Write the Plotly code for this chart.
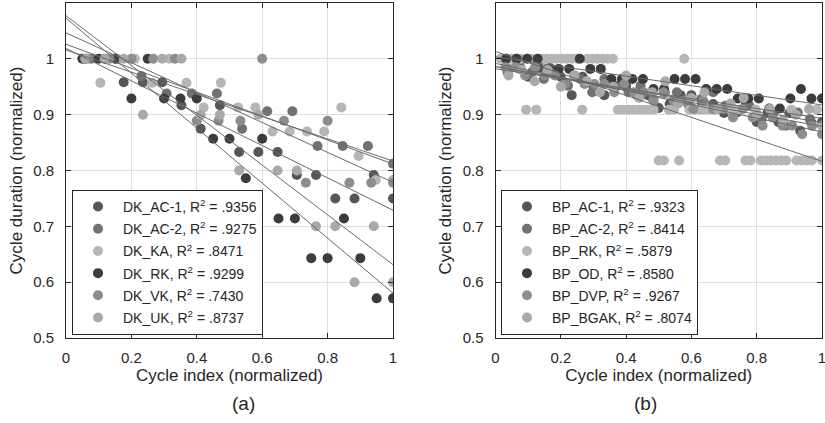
import numpy as np
import plotly.graph_objects as go

# ---- panel (a): DK series, normalized cycle durations in cycle order ----
dk_names = ["DK_AC-1", "DK_AC-2", "DK_KA", "DK_RK", "DK_VK", "DK_UK"]
dk_r2 = [".9356", ".9275", ".8471", ".9299", ".7430", ".8737"]
dk_ac1 = [1.0, 1.0, 0.958, 0.958, 0.958, 0.917, 0.875, 0.917, 0.833, 0.833,
          0.833, 0.792, 0.792, 0.75, 0.75, 0.792, 0.75]
dk_ac2 = [1.0, 1.0, 0.969, 0.938, 0.938, 0.938, 0.875, 0.906, 0.906, 0.844,
          0.844, 0.844, 0.812]
dk_ka = [1.0, 0.957, 1.0, 1.0, 0.957, 1.0, 0.957, 0.913, 0.957, 0.913,
         0.913, 0.87, 0.87, 0.87, 0.87, 0.913, 0.826, 0.783, 0.783]
dk_rk = [1.0, 1.0, 1.0, 0.929, 1.0, 0.929, 0.929, 0.929, 0.857, 0.857,
         0.786, 0.857, 0.714, 0.714, 0.643, 0.643, 0.714, 0.643, 0.571, 0.571]
dk_vk = [1.0, 1.0, 1.0, 1.0, 1.0, 0.889, 0.889, 0.889, 1.0, 0.889,
         0.778, 0.889, 0.778, 0.778, 0.778]
dk_uk = [1.0, 1.0, 1.0, 0.9, 1.0, 1.0, 0.9, 0.9, 0.8, 0.9,
         0.8, 0.8, 0.7, 0.7, 0.6, 0.7, 0.6]

# ---- panel (b): BP series ----
bp_names = ["BP_AC-1", "BP_AC-2", "BP_RK", "BP_OD", "BP_DVP", "BP_BGAK"]
bp_r2 = [".9323", ".8414", ".5879", ".8580", ".9267", ".8074"]
bp_ac1 = [0.984, 0.984, 0.968, 0.984, 0.984, 0.968, 0.935, 0.968, 0.952, 0.935,
          0.952, 0.952, 0.935, 0.935, 0.912, 0.919, 0.935, 0.935, 0.919, 0.919,
          0.903, 0.903, 0.919, 0.887, 0.903, 0.887, 0.903, 0.871, 0.887, 0.887]
bp_ac2 = [0.976, 0.988, 0.976, 0.964, 0.976, 0.952, 0.964, 0.94, 0.964, 0.952,
          0.94, 0.952, 0.928, 0.94, 0.94, 0.916, 0.928, 0.94, 0.916, 0.904,
          0.916, 0.892, 0.904, 0.88, 0.904, 0.892, 0.88]
bp_rk = [1.0, 1.0, 1.0, 1.0, 1.0, 0.909, 1.0, 0.909, 1.0, 1.0,
         1.0, 1.0, 1.0, 1.0, 1.0, 1.0, 0.909, 1.0, 1.0, 1.0,
         1.0, 1.0, 1.0, 0.909, 0.909, 0.909, 0.909, 0.909, 0.909, 0.909,
         0.909, 0.818, 0.818, 0.909, 0.909, 0.818, 1.0, 0.909, 0.909, 0.909,
         0.909, 0.909, 0.909, 0.818, 0.818, 0.909, 0.909, 0.909, 0.818, 0.818,
         0.909, 0.818, 0.818, 0.818, 0.818, 0.818, 0.818, 0.909, 0.818, 0.818,
         0.818, 0.818, 0.909, 0.818]
bp_od = [1.0, 1.0, 1.0, 1.0, 0.982, 0.982, 0.982, 1.0, 0.982, 0.982,
         0.964, 0.964, 0.964, 0.964, 0.946, 0.946, 0.964, 0.964, 0.964, 0.946,
         0.946, 0.946, 0.929, 0.929, 0.929, 0.911, 0.911, 0.929, 0.946, 0.929, 0.929]
bp_dvp = [0.985, 0.985, 0.97, 0.985, 0.97, 0.97, 0.955, 0.97, 0.955, 0.955,
          0.955, 0.94, 0.955, 0.94, 0.94, 0.925, 0.94, 0.925, 0.925, 0.91,
          0.925, 0.91, 0.91, 0.895, 0.91, 0.895, 0.88, 0.895, 0.88, 0.88,
          0.865, 0.88, 0.865]
bp_bgak = [0.97, 0.98, 0.96, 0.98, 0.95, 0.97, 0.96, 0.94, 0.95, 0.97,
           0.93, 0.94, 0.96, 0.92, 0.93, 0.94, 0.91, 0.92, 0.93, 0.9,
           0.91, 0.89, 0.9, 0.91, 0.88]

colors = ["#565656", "#717171", "#b6b6b6", "#3c3c3c", "#8d8d8d", "#a9a9a9"]
dk_series = [dk_ac1, dk_ac2, dk_ka, dk_rk, dk_vk, dk_uk]
bp_series = [bp_ac1, bp_ac2, bp_rk, bp_od, bp_dvp, bp_bgak]

fig = go.Figure()


def add_panel(series, names, r2s, xa, ya, legend):
    for vals, name, r2, col in zip(series, names, r2s, colors):
        y = np.array(vals)
        x = np.arange(1, len(y) + 1) / len(y)   # normalized cycle index
        fig.add_trace(go.Scatter(
            x=x, y=y, mode="markers", xaxis=xa, yaxis=ya, legend=legend,
            name=f"{name}, R<sup>2</sup> = {r2}", legendgroup=f"{legend}-{name}",
            marker=dict(size=10, color=col, line=dict(width=0))))
    # linear fits
    for vals in series:
        y = np.array(vals)
        x = np.arange(1, len(y) + 1) / len(y)
        m, b = np.polyfit(x, y, 1)
        xs = np.array([0.0, 1.0])
        fig.add_trace(go.Scatter(
            x=xs, y=m * xs + b, mode="lines", xaxis=xa, yaxis=ya,
            showlegend=False, hoverinfo="skip",
            line=dict(color="#6a6a6a", width=1)))


add_panel(dk_series, dk_names, dk_r2, "x", "y", "legend")
add_panel(bp_series, bp_names, bp_r2, "x2", "y2", "legend2")

ink = "#262626"
xcommon = dict(range=[0, 1], tickvals=[0, 0.2, 0.4, 0.6, 0.8, 1],
               ticktext=["0", "0.2", "0.4", "0.6", "0.8", "1"],
               showline=True, linecolor=ink, linewidth=1, mirror="ticks",
               ticks="inside", ticklen=5, tickcolor=ink, automargin=False,
               ticklabeloverflow="allow",
               showgrid=True, gridcolor="#dfdfdf", gridwidth=1, zeroline=False,
               tickfont=dict(size=15, color=ink), ticklabelstandoff=6,
               title=dict(text="Cycle index (normalized)",
                          font=dict(size=17, color=ink), standoff=2))
ycommon = dict(range=[0.5, 1.1], tickvals=[0.5, 0.6, 0.7, 0.8, 0.9, 1],
               ticktext=["0.5", "0.6", "0.7", "0.8", "0.9", "1"],
               showline=True, linecolor=ink, linewidth=1, mirror="ticks",
               ticks="inside", ticklen=5, tickcolor=ink, automargin=False,
               showgrid=True, gridcolor="#dfdfdf", gridwidth=1, zeroline=False,
               tickfont=dict(size=15, color=ink), ticklabelstandoff=8,
               title=dict(text="Cycle duration (normalized)",
                          font=dict(size=17, color=ink), standoff=6))

legend_common = dict(xanchor="left", yanchor="top", bgcolor="white",
                     bordercolor=ink, borderwidth=1,
                     font=dict(size=14, color=ink, family="Liberation Sans, Arial"),
                     itemwidth=40, tracegroupgap=1)

fig.update_layout(
    width=825, height=423,
    margin=dict(l=0, r=0, t=3, b=85, autoexpand=False),
    paper_bgcolor="white", plot_bgcolor="white",
    font=dict(family="Liberation Sans, Arial", color=ink),
    xaxis=dict(domain=[66 / 825, 393 / 825], anchor="y", **xcommon),
    yaxis=dict(domain=[0, 1], anchor="x", **ycommon),
    xaxis2=dict(domain=[495.5 / 825, 822 / 825], anchor="y2", **xcommon),
    yaxis2=dict(domain=[0, 1], anchor="x2", **ycommon),
    legend=dict(x=72 / 825, y=0.442, **legend_common),
    legend2=dict(x=501 / 825, y=0.442, **legend_common),
    annotations=[
        dict(text="(a)", x=229.5 / 825, y=-0.197, xref="paper", yref="paper",
             yanchor="middle", showarrow=False, font=dict(size=19, color=ink)),
        dict(text="(b)", x=658.5 / 825, y=-0.197, xref="paper", yref="paper",
             yanchor="middle", showarrow=False, font=dict(size=19, color=ink)),
    ],
)

# page body has a default 8px margin; drop it so the figure fills the window
fig.write_html("out.html", config={"displayModeBar": False},
               post_script="document.body.style.margin='0';")
